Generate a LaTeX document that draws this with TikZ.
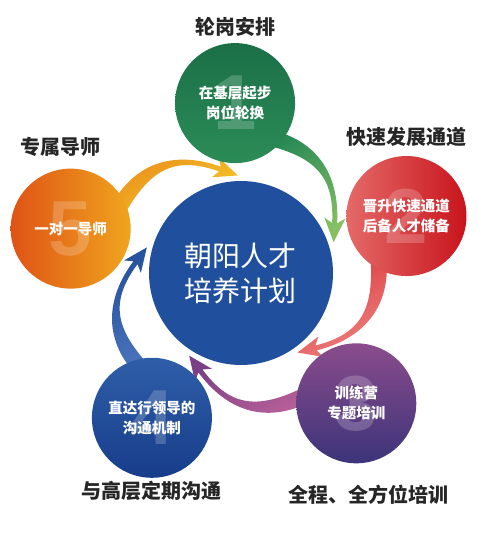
\documentclass[tikz,border=0pt]{standalone}
\usepackage{fontspec}
\setmainfont{Noto Sans CJK SC}
\newfontfamily\numfont{Liberation Sans}
\usetikzlibrary{positioning}

\definecolor{hub}{HTML}{1F4F9D}
\definecolor{tagtext}{HTML}{262626}
\definecolor{greentop}{HTML}{1B6F47}
\definecolor{greenbot}{HTML}{2B8C57}
\definecolor{redleft}{HTML}{E46A68}
\definecolor{redright}{HTML}{C8141C}
\definecolor{purpletop}{HTML}{8A4C8C}
\definecolor{purplebot}{HTML}{3C3479}
\definecolor{bluetop}{HTML}{2F5EA8}
\definecolor{bluebot}{HTML}{173D8A}
\definecolor{orangeleft}{HTML}{DF5316}
\definecolor{orangeright}{HTML}{F0A51E}
\definecolor{greenfrom}{HTML}{2A8A55}
\definecolor{greento}{HTML}{86C063}
\definecolor{redfrom}{HTML}{DC3A3C}
\definecolor{redto}{HTML}{EE8282}
\definecolor{purplefrom}{HTML}{7A3F84}
\definecolor{purpleto}{HTML}{BC629A}
\definecolor{bluefrom}{HTML}{24509C}
\definecolor{blueto}{HTML}{4A72BB}
\definecolor{orangefrom}{HTML}{E98E1A}
\definecolor{orangeto}{HTML}{F5C82B}

\begin{document}
\begin{tikzpicture}[
x=1pt, y=1pt,
sat/.style={
    circle,
    minimum size=120pt,
    inner sep=0pt,
    align=center,
    text=white,
    font=\fontsize{14.5}{20}\selectfont\bfseries
},
tag/.style={
    text=tagtext,
    font=\fontsize{20}{24}\selectfont\bfseries
},
bignum/.style={
    inner sep=0pt,
    text=white,
    text opacity=0.2,
    font=\numfont\fontsize{78}{78}\selectfont\bfseries
}
]

\useasboundingbox (-241,-263) rectangle (259,273);

\node (plan) [circle, fill=hub, minimum size=184pt, align=center, text=white,
    font=\fontsize{28}{35}\selectfont] {朝阳人才\\培养计划};

% arrows, drawn once with the first circle on top and turned round the hub
\foreach \turn/\from/\to in {2/greenfrom/greento, -71/redfrom/redto,
    -138.5/purplefrom/purpleto, -211.6/bluefrom/blueto, 75.4/orangefrom/orangeto}
    \shade[rotate=\turn, top color=\to, bottom color=\from, shading angle=-150.5]
        (36.2,141.7) .. controls (84.2,127.9) and (101.7,91.1) .. (97.8,46.3)
        -- (106.2,50.6) -- (93.6,27.6) -- (85.3,52.4) -- (92.8,46.7)
        .. controls (96.7,91.5) and (79.8,112.5) .. (31.8,126.3) -- cycle;

\node (rotation) [sat, top color=greentop, bottom color=greenbot] at (92:170)
    {在基层起步\\岗位轮换};
\node (fasttrack) [sat, left color=redleft, right color=redright] at (19:175)
    {晋升快速通道\\后备人才储备};
\node (camp) [sat, top color=purpletop, bottom color=purplebot] at (-48.5:174)
    {训练营\\专题培训};
\node (access) [sat, top color=bluetop, bottom color=bluebot] at (-121.6:170)
    {直达行领导的\\沟通机制};
\node (mentor) [sat, left color=orangeleft, right color=orangeright] at (165.4:176)
    {一对一导师};

\node (num1) [bignum] at (rotation) {1};
\node (num2) [bignum] at (fasttrack) {2};
\node (num3) [bignum] at (camp) {3};
\node (num4) [bignum] at (access) {4};
\node (num5) [bignum] at (mentor) {5};

\node (rotationtag) [tag, above=3pt of rotation] {轮岗安排};
\node (fasttracktag) [tag, above=6pt of fasttrack] {快速发展通道};
\node (mentortag) [tag, above=8pt of mentor, xshift=-10pt] {专属导师};
\node (accesstag) [tag, below=0pt of access] {与高层定期沟通};
\node (camptag) [tag, below=18pt of camp, xshift=12pt] {全程、全方位培训};

\end{tikzpicture}
\end{document}
